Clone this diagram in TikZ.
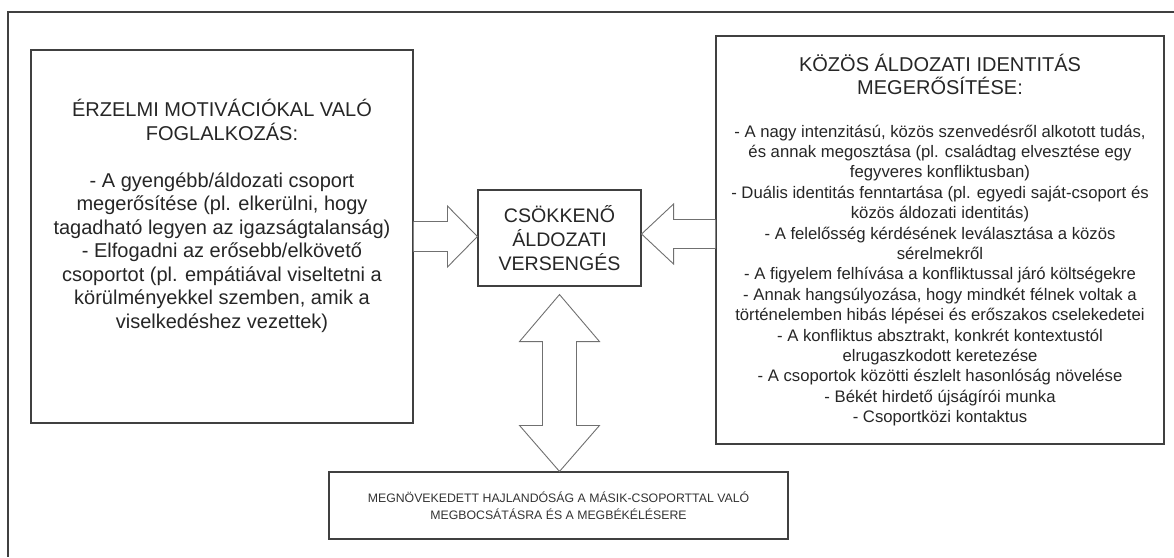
\documentclass[tikz,border=0pt]{standalone}
\usepackage{fontspec}
\setmainfont{Liberation Sans}
\usetikzlibrary{calc}
\definecolor{linegray}{HTML}{404040}
\definecolor{arrgray}{HTML}{707070}
\tikzset{
  box/.style={draw=linegray, line width=1.1pt, fill=white, inner sep=0pt},
  bigtxt/.style={align=center, text=black!85, font=\fontsize{20}{23.5}\selectfont},
  midtxt/.style={align=center, text=black!85, font=\fontsize{19.6}{23.7}\selectfont},
  smalltxt/.style={align=center, text=black!85, font=\fontsize{16.7}{20.4}\selectfont},
  tinytxt/.style={align=center, text=black!80, font=\fontsize{12.3}{17}\selectfont},
  blockarr/.style={draw=arrgray, line width=0.9pt, fill=white, line join=miter},
}

\begin{document}
\begin{tikzpicture}[x=1pt,y=-1pt]
\useasboundingbox (0,0) rectangle (1174,557);
% outer frame, cut off at the right and bottom
\draw[linegray, line width=1.4pt] (1174,12) -- (8,12) -- (8,557);

% boxes
\node[box, minimum width=382, minimum height=373] (emot) at (222,236.5) {};
\node[box, minimum width=448, minimum height=408] (kozos) at (940,240) {};
\node[box, midtxt, minimum width=163, minimum height=96] (cav) at (559.5,238) {CSÖKKENŐ\\ÁLDOZATI\\VERSENGÉS};
\node[box, tinytxt, minimum width=459, minimum height=67] (megb) at (558.5,505.5) {MEGNÖVEKEDETT HAJLANDÓSÁG A MÁSIK-CSOPORTTAL VALÓ\\MEGBOCSÁTÁSRA ÉS A MEGBÉKÉLÉSERE};

% texts of the two side boxes
\node[bigtxt] (etitle) at (222,120) {ÉRZELMI MOTIVÁCIÓKAL VALÓ\\FOGLALKOZÁS:};
\node[bigtxt] (ebody) at (222,252.5) {- A gyengébb/áldozati csoport\\megerősítése (pl. elkerülni, hogy\\tagadható legyen az igazságtalanság)\\- Elfogadni az erősebb/elkövető\\csoportot (pl. empátiával viseltetni a\\körülményekkel szemben, amik a\\viselkedéshez vezettek)};
\node[bigtxt] (ktitle) at (940,74.5) {KÖZÖS ÁLDOZATI IDENTITÁS\\MEGERŐSÍTÉSE:};
\node[smalltxt] (kbody) at (940,275.5) {- A nagy intenzitású, közös szenvedésről alkotott tudás,\\és annak megosztása (pl. családtag elvesztése egy\\fegyveres konfliktusban)\\- Duális identitás fenntartása (pl. egyedi saját-csoport és\\közös áldozati identitás)\\- A felelősség kérdésének leválasztása a közös\\sérelmekről\\- A figyelem felhívása a konfliktussal járó költségekre\\- Annak hangsúlyozása, hogy mindkét félnek voltak a\\történelemben hibás lépései és erőszakos cselekedetei\\- A konfliktus absztrakt, konkrét kontextustól\\elrugaszkodott keretezése\\- A csoportok közötti észlelt hasonlóság növelése\\- Békét hirdető újságírói munka\\- Csoportközi kontaktus};

% block arrows
\draw[blockarr] ($(emot.east)+(0,-15)$) -- ($(cav.west |- emot.east)+(-30,-15)$) -- ($(cav.west |- emot.east)+(-30,-30.5)$) -- (cav.west |- emot.east) -- ($(cav.west |- emot.east)+(-30,30.5)$) -- ($(cav.west |- emot.east)+(-30,15)$) -- ($(emot.east)+(0,15)$);
\coordinate (ktip) at ($(cav.east)+(0,-4)$);
\draw[blockarr] ($(ktip -| kozos.west)+(0,-14.5)$) -- ($(ktip)+(32,-14.5)$) -- ($(ktip)+(32,-30)$) -- (ktip) -- ($(ktip)+(32,30)$) -- ($(ktip)+(32,14.5)$) -- ($(ktip -| kozos.west)+(0,14.5)$);
\coordinate (vt) at ($(cav.south)+(0,8)$);
\coordinate (vb) at (vt |- megb.north);
\draw[blockarr] (vt) -- ++(40,47) -- ++(-23,0) -- ($(vb)+(17,-46)$) -- ++(23,0) -- (vb) -- ++(-40,-46) -- ++(23,0) -- ($(vt)+(-17,47)$) -- ++(-23,0) -- cycle;
\end{tikzpicture}
\end{document}
